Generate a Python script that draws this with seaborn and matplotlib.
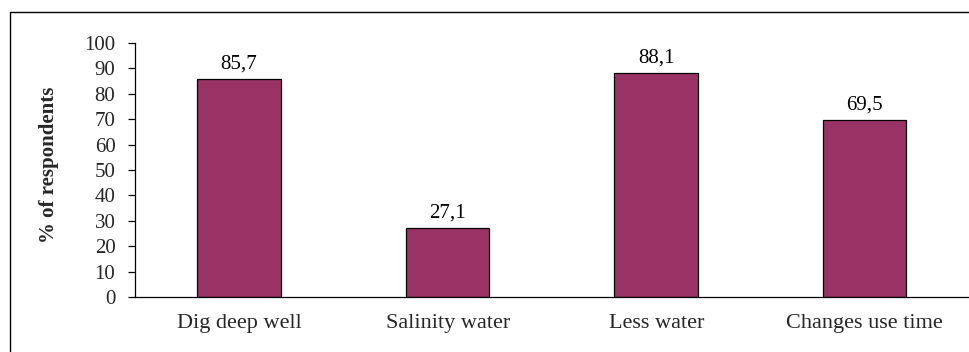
import matplotlib
matplotlib.use("Agg")
import matplotlib.pyplot as plt
from matplotlib.patches import Rectangle
import seaborn as sns
import pandas as pd

categories = ["Dig deep well", "Salinity water", "Less water", "Changes use time"]
values = [85.7, 27.1, 88.1, 69.5]
value_labels = ["85,7", "27,1", "88,1", "69,5"]
y_ticks = list(range(0, 101, 10))

sns.set_theme(style="white")
plt.rcParams["font.family"] = ["Liberation Serif", "DejaVu Serif"]

df = pd.DataFrame({"category": categories, "value": values})

fig = plt.figure(figsize=(9.7, 3.52), dpi=100)
ax = fig.add_axes([0.139, 0.156, 0.860, 0.722])

sns.barplot(data=df, x="category", y="value", color="#993366",
            width=0.4, edgecolor="black", linewidth=0.9, saturation=1, ax=ax)

for patch, lab in zip(ax.patches, value_labels):
    ax.annotate(lab, (patch.get_x() + patch.get_width() / 2, patch.get_height()),
                xytext=(0, 4), textcoords="offset points",
                ha="center", va="bottom", fontsize=15, color="black")

ax.set_ylim(0, 100)
ax.set_xlim(-0.5, len(categories) - 0.5)
ax.set_yticks(y_ticks)
ax.set_yticklabels([str(t) for t in y_ticks], fontsize=15)

# category labels centred, ticks on the category boundaries
ax.set_xticks(range(len(categories)))
ax.set_xticklabels(categories, fontsize=16)
ax.tick_params(axis="x", which="major", length=0, pad=12)
ax.set_xticks([i - 0.5 for i in range(len(categories) + 1)], minor=True)
ax.tick_params(axis="x", which="minor", length=5, width=0.9, color="black", direction="out")
ax.tick_params(axis="y", length=5, width=0.9, color="black", direction="out", left=True, pad=9)

ax.set_xlabel("")
ax.set_ylabel("% of respondents", fontsize=15, fontweight="bold")
ax.yaxis.set_label_coords(-0.091, 0.52)

for side in ["top", "right"]:
    ax.spines[side].set_visible(False)
for side in ["left", "bottom"]:
    ax.spines[side].set_color("black")
    ax.spines[side].set_linewidth(0.9)

# chart frame
fig.patches.append(Rectangle((10 / 970, -0.05), 1.0, 1 - 12 / 352 + 0.05,
                             transform=fig.transFigure, fill=False,
                             edgecolor="black", linewidth=1.0))

fig.savefig("out.png", dpi=100)
